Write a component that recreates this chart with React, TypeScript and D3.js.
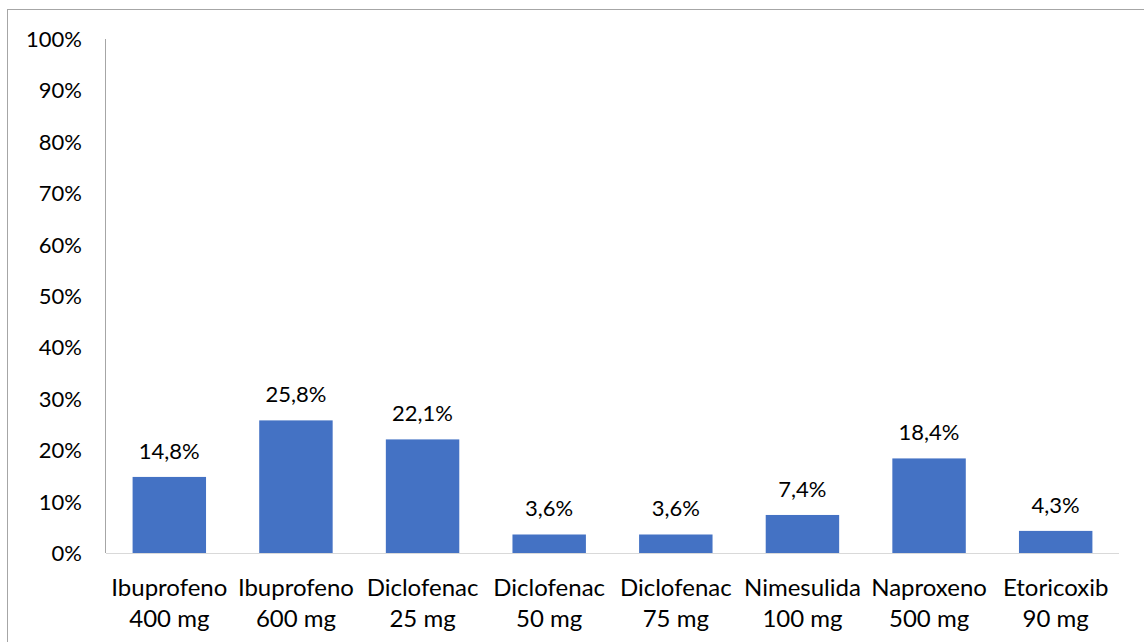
import React from "react";
import * as d3 from "d3";

const categories = [
  ["Ibuprofeno", "400 mg"],
  ["Ibuprofeno", "600 mg"],
  ["Diclofenac", "25 mg"],
  ["Diclofenac", "50 mg"],
  ["Diclofenac", "75 mg"],
  ["Nimesulida", "100 mg"],
  ["Naproxeno", "500 mg"],
  ["Etoricoxib", "90 mg"],
];
const values = [14.8, 25.8, 22.1, 3.6, 3.6, 7.4, 18.4, 4.3];
const yTicks = [0, 10, 20, 30, 40, 50, 60, 70, 80, 90, 100];

const W = 1144;
const H = 642;
const margin = { left: 106, right: 25, top: 39, bottom: 89 };
const FONT = "Lato, 'DejaVu Sans', sans-serif";

export default function App() {
  const x = d3
    .scaleBand<number>()
    .domain(d3.range(values.length))
    .range([margin.left, W - margin.right])
    .paddingInner(0.42)
    .paddingOuter(0.21);
  const y = d3.scaleLinear().domain([0, 100]).range([H - margin.bottom, margin.top]);
  const fmt = (v: number) => v.toFixed(1).replace(".", ",") + "%";

  return (
    <svg
      width={W}
      height={H}
      style={{ position: "absolute", left: 0, top: 0, display: "block" }}
      fontFamily={FONT}
    >
      <rect x={0} y={0} width={W} height={H} fill="#fff" />
      <rect x={7.5} y={9.5} width={W + 10} height={H + 10} fill="none" stroke="#a6a6a6" strokeWidth={1} />
      {yTicks.map((t) => (
        <text key={t} x={82} y={y(t)} dy="0.36em" textAnchor="end" fontSize={22} fill="#000">
          {t}%
        </text>
      ))}
      {values.map((v, i) => {
        const cx = (x(i) as number) + x.bandwidth() / 2;
        return (
          <g key={i}>
            <rect x={x(i)} y={y(v)} width={x.bandwidth()} height={y(0) - y(v)} fill="#4472C4" />
            <text x={cx} y={y(v) - 18} textAnchor="middle" fontSize={22} fill="#000">
              {fmt(v)}
            </text>
            <text x={cx} y={596} textAnchor="middle" fontSize={24} fill="#000">
              <tspan x={cx}>{categories[i][0]}</tspan>
              <tspan x={cx} dy={31}>
                {categories[i][1]}
              </tspan>
            </text>
          </g>
        );
      })}
      <line x1={margin.left - 0.5} x2={margin.left - 0.5} y1={y(100)} y2={y(0)} stroke="#a6a6a6" />
      <line x1={margin.left} x2={W - margin.right} y1={y(0) + 0.5} y2={y(0) + 0.5} stroke="#d9d9d9" />
    </svg>
  );
}
